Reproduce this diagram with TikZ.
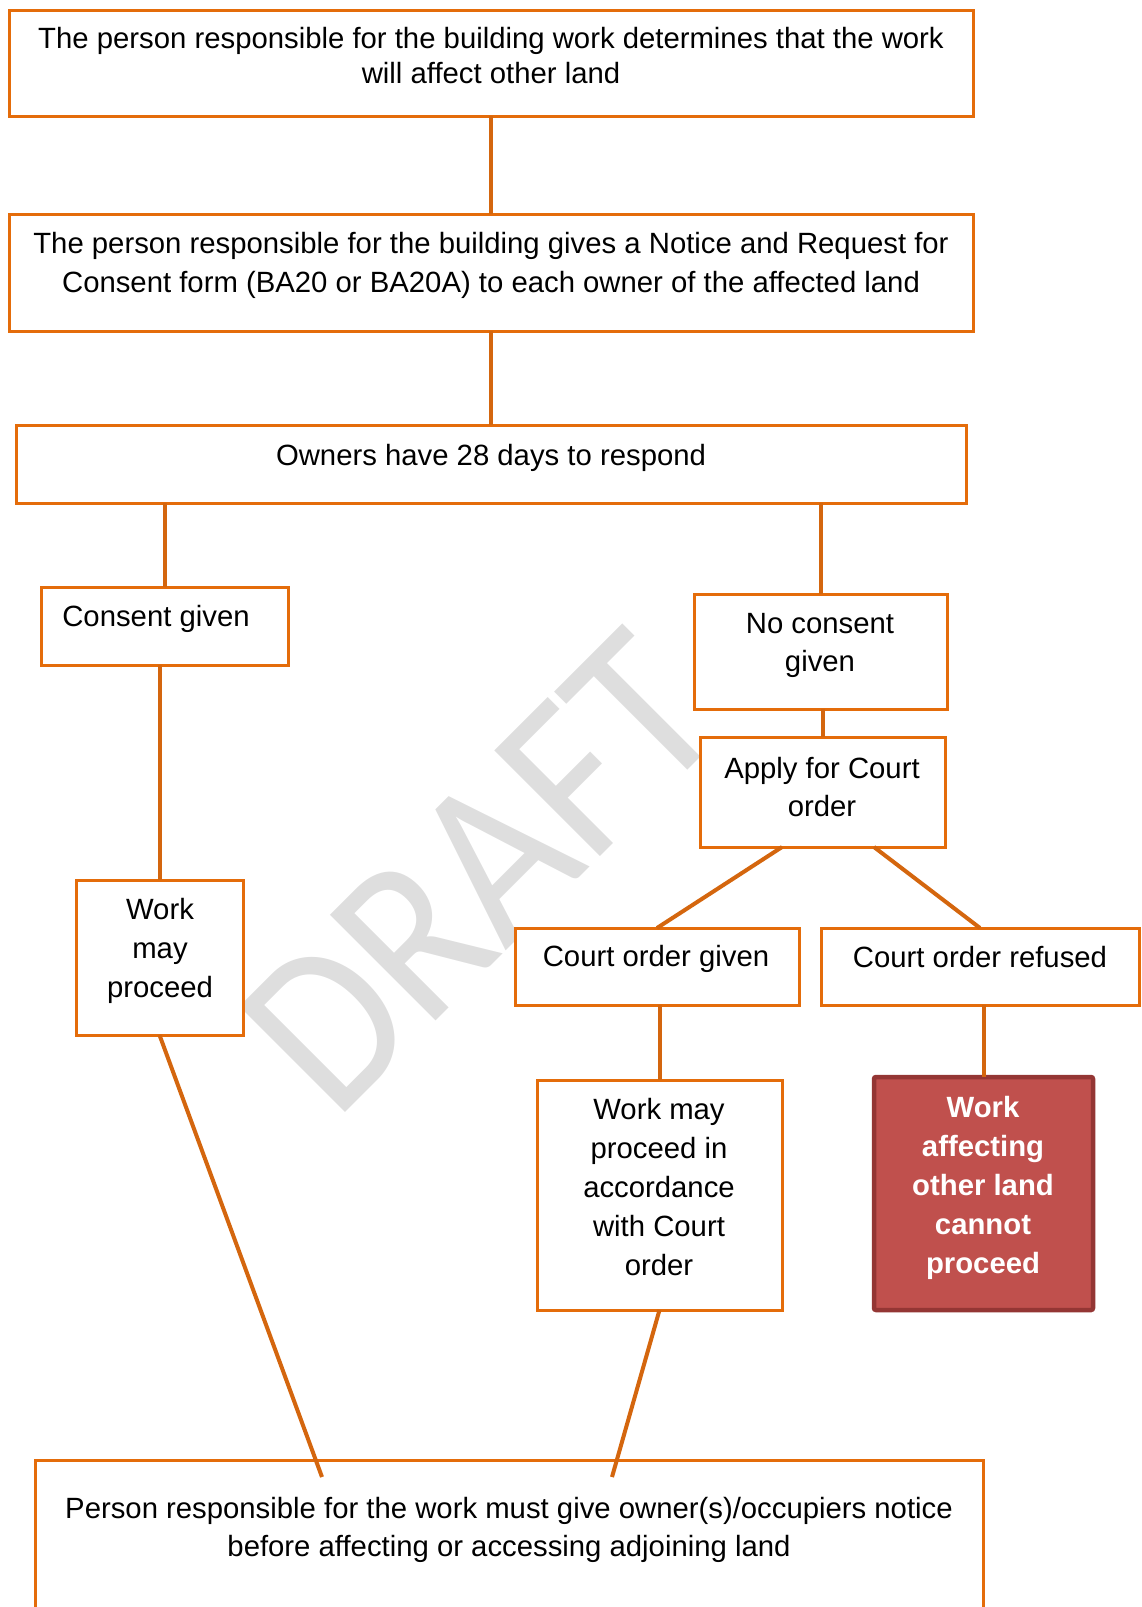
\documentclass[tikz,border=0pt]{standalone}
\usepackage{fontspec}
\setmainfont{Liberation Sans}
\newfontfamily\wmfont{Carlito}
\usetikzlibrary{calc}
\definecolor{boxorange}{RGB}{228,108,10}
\definecolor{lineorange}{RGB}{212,102,14}
\definecolor{stopfill}{RGB}{192,80,77}
\definecolor{stopedge}{RGB}{148,54,52}
\definecolor{wmgray}{RGB}{222,222,222}

\begin{document}
\begin{tikzpicture}[x=1pt,y=-1pt,
  box/.style={draw=boxorange,line width=3pt,fill=white,inner sep=0pt,outer sep=0pt},
  stopbox/.style={draw=stopedge,fill=stopfill,line width=4.5pt,rounded corners=2pt,inner sep=0pt,outer sep=0pt},
  txt/.style={align=center,inner sep=0pt,font=\fontsize{29.3}{39}\selectfont},
  link/.style={draw=lineorange,line width=4pt}]
\useasboundingbox (0,0) rectangle (1141,1607);
\clip (0,0) rectangle (1141,1607);
% watermark
\node[text=wmgray,font=\wmfont\fontsize{208}{208}\selectfont,rotate=45,inner sep=0pt] (wm) at (480,872) {\scalebox{1}[1.12]{DRAFT}};
% boxes
\node[box,minimum width=964pt,minimum height=106pt] (det) at (491,63) {};
\node[box,minimum width=964pt,minimum height=117pt] (notice) at (491,272.5) {};
\node[box,minimum width=950pt,minimum height=78pt] (owners) at (491,464) {};
\node[box,minimum width=247pt,minimum height=78pt] (cons) at (164.5,626) {};
\node[box,minimum width=253pt,minimum height=115pt] (nocons) at (820.5,651.5) {};
\node[box,minimum width=245pt,minimum height=110pt] (apply) at (822.5,792) {};
\node[box,minimum width=167pt,minimum height=155pt] (mayL) at (159.5,957.5) {};
\node[box,minimum width=284pt,minimum height=77pt] (given) at (657,966.5) {};
\node[box,minimum width=318pt,minimum height=77pt] (refused) at (980,966.5) {};
\node[box,minimum width=245pt,minimum height=230pt] (accord) at (659.5,1195) {};
\node[stopbox,minimum width=219pt,minimum height=233pt] (stop) at (983.5,1193.5) {};
\node[box,minimum width=948pt,minimum height=190pt] (final) at (509,1555) {};
% texts
\node[txt,font=\fontsize{29.3}{35}\selectfont] (tdet) at (491,55.5)
  {The person responsible for the building work determines that the work\\will affect other land};
\node[txt] (tnotice) at (491,265.5)
  {The person responsible for the building gives a Notice and Request for\\Consent form (BA20 or BA20A) to each owner of the affected land};
\node[txt] (towners) at (491,458) {Owners have 28 days to respond};
\node[txt] (tcons) at (156,619) {Consent given};
\node[txt,font=\fontsize{29.3}{38}\selectfont] (tnocons) at (820,645) {No consent\\given};
\node[txt,font=\fontsize{29.3}{38}\selectfont] (tapply) at (822,787) {Apply for Court\\order};
\node[txt] (tmayL) at (160,951) {Work\\may\\proceed};
\node[txt] (tgiven) at (656,959) {Court order given};
\node[txt] (trefused) at (980,957) {Court order refused};
\node[txt] (taccord) at (659,1187) {Work may\\proceed in\\accordance\\with Court\\order};
\node[txt,text=white,font=\bfseries\fontsize{29.3}{39}\selectfont] (tstop) at (983,1188)
  {Work\\affecting\\other land\\cannot\\proceed};
\node[txt,font=\fontsize{29.3}{38}\selectfont] (tfinal) at (509,1530)
  {Person responsible for the work must give owner(s)/occupiers notice\\before affecting or accessing adjoining land};
% connectors
\coordinate (lowL) at (322,1477);
\coordinate (lowR) at (612,1477);
\draw[link] (det.south) -- (notice.north);
\draw[link] (notice.south) -- (owners.north);
\draw[link] (cons.north |- owners.south) -- (cons.north);
\draw[link] (nocons.north |- owners.south) -- (nocons.north);
\draw[link] (apply.north |- nocons.south) -- (apply.north);
\draw[link] ($(apply.south west)!0.335!(apply.south east)$) -- (given.north);
\draw[link] ($(apply.south west)!0.71!(apply.south east)$) -- (refused.north);
\draw[link] (mayL.north |- cons.south) -- (mayL.north);
\draw[link] (accord.north |- given.south) -- (accord.north);
\draw[link] (stop.north |- refused.south) -- (stop.north);
\draw[link] (mayL.south) -- (lowL);
\draw[link] (accord.south) -- (lowR);
\end{tikzpicture}
\end{document}
